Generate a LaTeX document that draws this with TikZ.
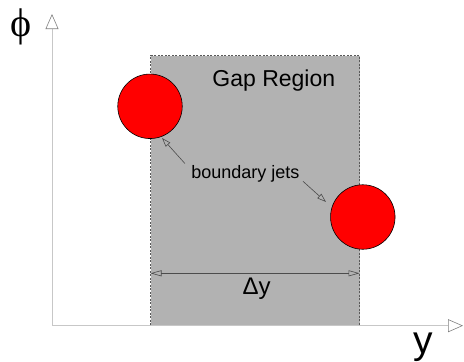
\documentclass[tikz,border=0pt]{standalone}
\usepackage{fontspec}
\setmainfont{Liberation Sans}
\newfontfamily\phifont{Liberation Serif}
\usetikzlibrary{arrows.meta}

\begin{document}
\begin{tikzpicture}[x=1pt, y=-1pt,
  axis/.style={black!22, line width=0.8pt,
    -{Triangle[length=15pt, width=13pt, fill=white, color=black!50, line width=0.6pt]}},
  pointer/.style={black!70, line width=0.6pt, -{Triangle[open, length=9pt, width=6pt]}},
  span/.style={black!70, line width=0.6pt,
    {Triangle[open, length=11pt, width=6pt]}-{Triangle[open, length=11pt, width=6pt]}},
  jet/.style={circle, draw=black, line width=0.6pt, fill=red, minimum size=64.5pt, inner sep=0pt},
  gap/.style={draw=black!65, dash pattern=on 2pt off 1.5pt, line width=0.6pt, fill=black!30,
    minimum width=209pt, minimum height=270pt, inner sep=0pt}]
  \useasboundingbox (0,0) rectangle (464,362);

  % gap region
  \node[gap] (gapbox) at (255,190.5) {};
  \node[anchor=base, font=\fontsize{23}{27}\selectfont] (gaptext) at (273.8,86.5) {Gap Region};

  % axes
  \coordinate (O) at (52,325.7);
  \coordinate (ytip) at (52,14);
  \coordinate (xtip) at (463,325.7);
  \draw[axis] (O) -- (ytip);
  \draw[axis] (O) -- (xtip);
  \node[anchor=base, font=\phifont\fontsize{40}{44}\selectfont] (phi) at (21,36) {ϕ};
  \node[anchor=base, font=\fontsize{39}{44}\selectfont] (ylab) at (423,353.5) {y};

  % boundary jets
  \node[jet] (jetA) at (150,106.3) {};
  \node[jet] (jetB) at (362.8,217) {};
  \node[anchor=base, font=\fontsize{18}{22}\selectfont] (bj) at (245.4,178) {boundary jets};
  \coordinate (tipA) at (162,138);
  \coordinate (tipB) at (326,202);
  \draw[pointer] ([xshift=-3pt,yshift=-2pt]bj.north west) -- (tipA);
  \draw[pointer] ([yshift=4pt]bj.south east) -- (tipB);

  % rapidity span
  \coordinate (dyL) at (150.5,273.3);
  \coordinate (dyR) at (359.5,273.3);
  \draw[span] (dyL) -- (dyR);
  \node[anchor=base, font=\fontsize{24}{28}\selectfont] (dy) at (256.7,294) {Δy};
\end{tikzpicture}
\end{document}
